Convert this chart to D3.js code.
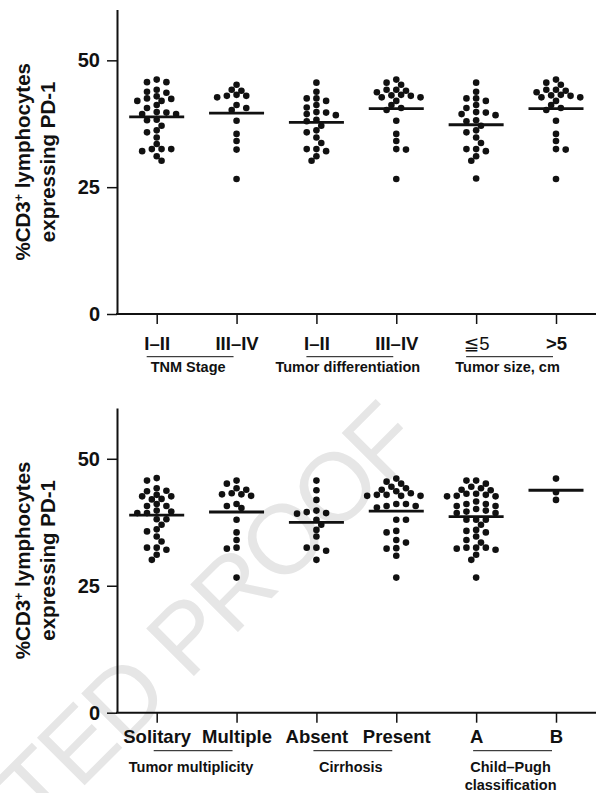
<!DOCTYPE html>
<html>
<head>
<meta charset="utf-8">
<script src="https://cdn.jsdelivr.net/npm/d3@7"></script>
<style>
  body { margin: 0; background: #fff; }
  svg text { font-family: 'Liberation Sans', Arial, Helvetica, sans-serif; }
</style>
</head>
<body>
<div id="chart"></div>
<script>
// category labels
var topCategories = ['I–II', 'III–IV', 'I–II', 'III–IV', '≦5', '>5']
var topGroups = [['TNM Stage'], ['Tumor differentiation'], ['Tumor size, cm']]
var bottomCategories = ['Solitary', 'Multiple', 'Absent', 'Present', 'A', 'B']
var bottomGroups = [['Tumor multiplicity'], ['Cirrhosis'], ['Child–Pugh', 'classification']]
var yTicks = [0, 25, 50]

// % of CD3+ lymphocytes expressing PD-1, one value per patient
var tnmEarly = [46.2, 45.7, 45.7, 44.2, 43.6, 43.8, 42.5, 42.0, 42.9, 42.0, 42.4, 40.6, 41.2, 39.7, 39.4,
  39.4, 39.8, 38.3, 38.2, 36.2, 37.1, 35.8, 34.8, 32.5, 32.5, 32.1, 32.5, 33.5, 31.1, 30.2]
var tnmLate = [45.2, 44.2, 43.2, 43.0, 42.7, 43.0, 44.0, 41.2, 40.2, 40.6, 38.1, 35.5, 34.1, 32.4, 26.6]
var diffEarly = [45.6, 43.8, 42.5, 42.0, 42.5, 40.7, 41.2, 39.7, 39.2, 39.4, 39.8, 38.0, 38.3, 37.1, 36.2,
  35.8, 34.8, 33.7, 32.5, 32.1, 32.5, 31.1, 30.2]
var diffLate = [46.2, 45.2, 45.6, 44.2, 43.7, 44.0, 44.2, 43.1, 42.7, 42.7, 43.0, 43.2, 42.0, 41.2, 40.2,
  40.6, 38.1, 35.5, 34.1, 32.5, 32.4, 26.6]
var sizeSmall = [45.6, 43.8, 42.5, 42.0, 42.5, 41.2, 40.6, 39.8, 39.4, 39.2, 39.7, 38.2, 38.0, 37.1, 35.8,
  36.2, 34.8, 33.7, 32.5, 32.1, 32.5, 31.1, 30.2, 26.7]
var sizeLarge = [46.2, 45.2, 45.6, 44.2, 43.7, 44.0, 44.2, 43.1, 42.7, 42.7, 43.0, 43.2, 42.0, 41.2, 40.2,
  40.6, 38.1, 35.5, 34.1, 32.5, 32.4, 26.6]

var solitary = [46.2, 45.7, 44.2, 43.6, 43.7, 42.6, 42.9, 42.1, 42.0, 42.6, 40.7, 41.1, 40.7, 39.8, 39.6,
  39.3, 39.3, 38.1, 38.1, 37.0, 36.1, 35.7, 34.7, 33.7, 32.5, 32.1, 32.5, 31.1, 30.1]
var multiple = [45.7, 45.1, 44.2, 43.2, 43.0, 42.7, 43.0, 43.9, 41.1, 40.3, 40.7, 38.0, 35.5, 34.0, 32.5,
  32.3, 26.6]
var cirrhosisAbsent = [45.7, 43.8, 41.9, 39.5, 39.2, 39.3, 39.8, 38.0, 37.0, 36.0, 34.7, 32.5, 31.9, 32.5, 30.1]
var cirrhosisPresent = [46.1, 45.5, 45.1, 44.5, 44.2, 43.9, 43.6, 43.2, 42.9, 42.7, 42.9, 42.7, 42.7,
  41.1, 40.7, 40.4, 40.7, 41.1, 38.0, 38.0, 35.8, 35.5, 34.0, 33.5, 32.3, 32.4, 30.9, 26.6]
var childPughA = [45.7, 45.7, 45.1, 44.5, 43.8, 44.2, 43.9, 42.6, 42.7, 43.1, 42.6, 43.1, 42.9, 41.1, 40.7,
  41.6, 40.7, 41.1, 39.6, 40.1, 39.8, 39.3, 39.3, 38.0, 38.0, 38.0, 37.0, 35.8, 36.0, 35.5, 34.7, 34.0,
  33.5, 32.5, 32.5, 32.1, 32.3, 32.5, 31.1, 30.1, 26.6]
var childPughB = [46.1, 43.4, 41.9]

var topSeries = [tnmEarly, tnmLate, diffEarly, diffLate, sizeSmall, sizeLarge]
var bottomSeries = [solitary, multiple, cirrhosisAbsent, cirrhosisPresent, childPughA, childPughB]

var w = 596
var h = 793

var svg = d3.select('#chart').append('svg')
  .attr('width', w)
  .attr('height', h)

// watermark behind everything
svg.append('text')
  .text('UNCORRECTED PROOF')
  .attr('transform', 'translate(424,446) rotate(-45)')
  .attr('text-anchor', 'end')
  .style('font-size', '98px')
  .style('letter-spacing', '-3px')
  .style('fill', '#e6e6e6')

drawPanel({
  series: topSeries,
  categories: topCategories,
  groups: topGroups,
  y0: 314,
  y60: 9.6,
  labelY: 349.5,
  ruleY: 356.7,
  ruleFrom: -10,
  ruleTo: -3,
  groupY: 371.5
})

drawPanel({
  series: bottomSeries,
  categories: bottomCategories,
  groups: bottomGroups,
  y0: 712.7,
  y60: 408,
  labelY: 743.5,
  ruleY: 750.7,
  ruleFrom: -3,
  ruleTo: -4,
  groupY: 771.5
})

// beeswarm: half-step grid, nearest free slot to the centre
function swarm (values, y, step, minDist) {
  var placed = []
  var offsets = new Array(values.length)
  var order = values.map(function (v, i) { return i })
    .sort(function (a, b) { return values[b] - values[a] })
  var flip = 1
  order.forEach(function (i) {
    var py = y(values[i])
    var dx = 0
    for (var k = 0; k < 40; k++) {
      dx = k === 0 ? 0 : Math.ceil(k / 2) * step * (k % 2 ? -flip : flip)
      var hit = placed.some(function (p) {
        return Math.hypot(p.x - dx, p.y - py) < minDist
      })
      if (!hit) break
    }
    if (dx !== 0) flip = -flip
    offsets[i] = dx
    placed.push({x: dx, y: py})
  })
  return offsets
}

function drawPanel (o) {
  var y = d3.scaleLinear().domain([0, 60]).range([o.y0, o.y60])
  var x = d3.scalePoint().domain(d3.range(o.categories.length)).range([156.7, 556])
  var g = svg.append('g')

  // y axis
  var yAxis = g.append('g')
    .attr('transform', 'translate(117,0)')
    .call(d3.axisLeft(y).tickValues(yTicks).tickSize(10).tickSizeOuter(0).tickPadding(7))
  yAxis.select('.domain').attr('stroke', '#111').attr('stroke-width', 2)
  yAxis.selectAll('.tick line').attr('stroke', '#111').attr('stroke-width', 1.5)
  yAxis.selectAll('.tick text')
    .attr('fill', '#111')
    .style('font-size', '20px')
    .style('font-weight', 'bold')
    .style('font-family', "'Liberation Sans', Arial, sans-serif")

  // x axis: long baseline plus category ticks
  g.append('line')
    .attr('x1', 116).attr('x2', w)
    .attr('y1', o.y0).attr('y2', o.y0)
    .attr('stroke', '#111').attr('stroke-width', 2)
  var xAxis = g.append('g')
    .attr('transform', 'translate(0,' + o.y0 + ')')
    .call(d3.axisBottom(x).tickSize(10).tickSizeOuter(0).tickFormat(function (d) { return o.categories[d] }))
  xAxis.select('.domain').remove()
  xAxis.selectAll('.tick line').attr('stroke', '#111').attr('stroke-width', 1.5)
  xAxis.selectAll('.tick text')
    .attr('y', o.labelY - o.y0)
    .attr('dy', 0)
    .attr('fill', '#111')
    .style('font-size', '18.5px')
    .style('font-family', "'Liberation Sans', 'DejaVu Sans', Arial, sans-serif")
    .style('font-weight', function (d) { return o.categories[d] === '≦5' ? 'normal' : 'bold' })

  // group rules and names
  o.groups.forEach(function (lines, gi) {
    var a = x(gi * 2) + o.ruleFrom
    var b = x(gi * 2 + 1) + o.ruleTo
    g.append('line')
      .attr('x1', a).attr('x2', b)
      .attr('y1', o.ruleY).attr('y2', o.ruleY)
      .attr('stroke', '#111').attr('stroke-width', 1)
    lines.forEach(function (line, li) {
      g.append('text').text(line)
        .attr('x', (a + b) / 2 - 2)
        .attr('y', o.groupY + li * 18.5)
        .attr('text-anchor', 'middle')
        .attr('fill', '#111')
        .style('font-size', '14.5px')
        .style('font-weight', 'bold')
    })
  })

  // y title, two lines
  var mid = (o.y0 + o.y60) / 2
  var t1 = g.append('text')
    .attr('transform', 'translate(30,' + mid + ') rotate(-90)')
    .attr('text-anchor', 'middle')
    .attr('fill', '#111')
    .style('font-size', '20.5px')
    .style('font-weight', 'bold')
  t1.append('tspan').text('%CD3')
  t1.append('tspan').text('+').attr('baseline-shift', 'super').style('font-size', '12.5px')
  t1.append('tspan').text(' lymphocytes')
  g.append('text').text('expressing PD-1')
    .attr('transform', 'translate(55,' + mid + ') rotate(-90)')
    .attr('text-anchor', 'middle')
    .attr('fill', '#111')
    .style('font-size', '20.5px')
    .style('font-weight', 'bold')

  // dots and mean lines
  o.series.forEach(function (values, ci) {
    var offsets = swarm(values, y, 4.85, 6.3)
    var col = g.append('g')
    col.selectAll('circle').data(values).enter().append('circle')
      .attr('cx', function (d, i) { return x(ci) + offsets[i] })
      .attr('cy', function (d) { return y(d) })
      .attr('r', 3.3)
      .attr('fill', '#111')
    var m = d3.mean(values)
    col.append('line')
      .attr('x1', x(ci) - 27.5).attr('x2', x(ci) + 27.5)
      .attr('y1', y(m)).attr('y2', y(m))
      .attr('stroke', '#111').attr('stroke-width', 2.8)
  })
}
</script>
</body>
</html>
